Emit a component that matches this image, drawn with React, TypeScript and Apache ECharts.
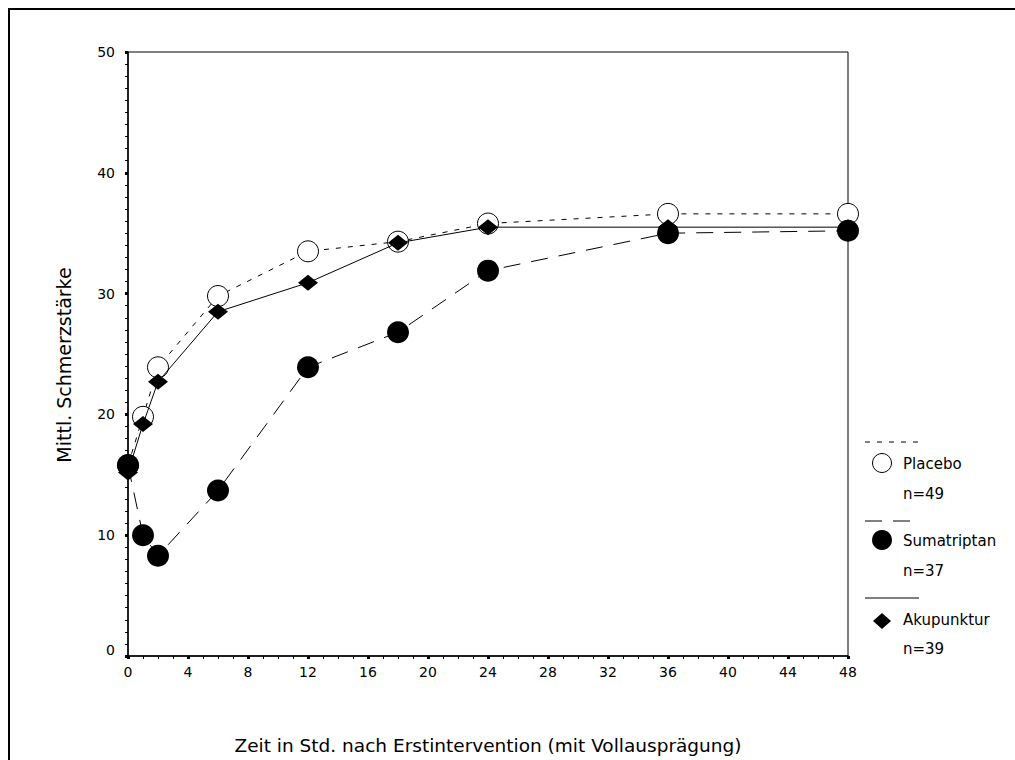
import React, { useEffect, useRef } from "react";
import * as echarts from "echarts";

const hours = [0, 1, 2, 6, 12, 18, 24, 36, 48];
const placebo = [15.8, 19.8, 23.9, 29.8, 33.5, 34.3, 35.8, 36.6, 36.6];
const sumatriptan = [15.8, 10.0, 8.3, 13.7, 23.9, 26.8, 31.9, 35.0, 35.2];
const akupunktur = [15.2, 19.2, 22.7, 28.5, 30.9, 34.2, 35.5, 35.5, 35.5];
const legendNames = ["Placebo", "Sumatriptan", "Akupunktur"];
const legendN = ["n=49", "n=37", "n=39"];

const FONT = "DejaVu Sans, Verdana, sans-serif";

export default function App() {
  const ref = useRef<HTMLDivElement>(null);
  useEffect(() => {
    const chart = echarts.init(ref.current!, undefined, { renderer: "svg" });
    const pair = (ys: number[]) => hours.map((h, i) => [h, ys[i]]);
    const lineCommon = { color: "#000", width: 1 };
    const legendX = 865;
    const textX = 903;
    const lf = `15px ${FONT}`;
    const graphic: any[] = [
      { type: "rect", shape: { x: 9, y: 9, width: 1100, height: 900 }, style: { fill: "none", stroke: "#000", lineWidth: 2 }, silent: true },
      // Placebo legend
      { type: "line", shape: { x1: legendX, y1: 442, x2: 920, y2: 442 }, style: { stroke: "#000", lineWidth: 1, lineDash: [5, 7] } },
      { type: "circle", shape: { cx: 882, cy: 463, r: 9.5 }, style: { fill: "#fff", stroke: "#000", lineWidth: 1 } },
      { type: "text", x: textX, y: 464, style: { text: legendNames[0], font: lf, fill: "#000", verticalAlign: "middle" } },
      { type: "text", x: textX, y: 494, style: { text: legendN[0], font: lf, fill: "#000", verticalAlign: "middle" } },
      // Sumatriptan legend
      { type: "line", shape: { x1: legendX, y1: 521, x2: 920, y2: 521 }, style: { stroke: "#000", lineWidth: 1, lineDash: [17, 11] } },
      { type: "circle", shape: { cx: 882, cy: 540, r: 10 }, style: { fill: "#000" } },
      { type: "text", x: textX, y: 541, style: { text: legendNames[1], font: lf, fill: "#000", verticalAlign: "middle" } },
      { type: "text", x: textX, y: 571, style: { text: legendN[1], font: lf, fill: "#000", verticalAlign: "middle" } },
      // Akupunktur legend
      { type: "line", shape: { x1: legendX, y1: 598, x2: 919, y2: 598 }, style: { stroke: "#000", lineWidth: 1 } },
      { type: "polygon", shape: { points: [[882, 613], [891, 621], [882, 629], [873, 621]] }, style: { fill: "#000" } },
      { type: "text", x: textX, y: 620, style: { text: legendNames[2], font: lf, fill: "#000", verticalAlign: "middle" } },
      { type: "text", x: textX, y: 649, style: { text: legendN[2], font: lf, fill: "#000", verticalAlign: "middle" } },
    ];
    chart.setOption({
      animation: false,
      backgroundColor: "#fff",
      textStyle: { fontFamily: FONT },
      grid: { left: 128, top: 52, right: 167, bottom: 98, show: true, borderColor: "#000", borderWidth: 1, backgroundColor: "transparent" },
      xAxis: {
        type: "value", min: 0, max: 48, interval: 4,
        name: "Zeit in Std. nach Erstintervention (mit Vollausprägung)",
        nameLocation: "middle", nameGap: 80,
        nameTextStyle: { fontSize: 18.5, color: "#000", fontFamily: FONT },
        axisLine: { lineStyle: { color: "#000", width: 1.5 } },
        axisTick: { show: true, length: 3, lineStyle: { color: "#000", width: 3 } },
        minorTick: { show: true, splitNumber: 4, length: 3, lineStyle: { color: "#000", width: 1 } },
        axisLabel: { color: "#000", fontSize: 14, margin: 9, fontFamily: FONT },
        splitLine: { show: false },
      },
      yAxis: {
        type: "value", min: 0, max: 50, interval: 10,
        name: "Mittl. Schmerzstärke",
        nameLocation: "middle", nameGap: 55,
        nameTextStyle: { fontSize: 19, color: "#000", fontFamily: FONT, padding: [0, 22, 0, 0] },
        axisLine: { lineStyle: { color: "#000", width: 1.5 } },
        axisTick: { show: true, length: 3, lineStyle: { color: "#000", width: 3 } },
        minorTick: { show: true, splitNumber: 10, length: 3, lineStyle: { color: "#000", width: 1 } },
        axisLabel: {
          color: "#000", fontSize: 14, margin: 13, fontFamily: FONT,
          formatter: (v: number) => (v === 0 ? "{z|0}" : String(v)),
          rich: { z: { fontSize: 14, color: "#000", padding: [0, 0, 13, 0], fontFamily: FONT } },
        },
        splitLine: { show: false },
      },
      series: [
        {
          name: legendNames[0], type: "line", data: pair(placebo),
          symbol: "circle", symbolSize: 21,
          itemStyle: { color: "#fff", borderColor: "#000", borderWidth: 1 },
          lineStyle: { ...lineCommon, type: [5, 7] },
          z: 2,
        },
        {
          name: legendNames[2], type: "line", data: pair(akupunktur),
          symbol: "diamond", symbolSize: [20, 16],
          itemStyle: { color: "#000" },
          lineStyle: { ...lineCommon, type: "solid" },
          z: 3,
        },
        {
          name: legendNames[1], type: "line", data: pair(sumatriptan),
          symbol: "circle", symbolSize: 22,
          itemStyle: { color: "#000" },
          lineStyle: { ...lineCommon, type: [17, 11] },
          z: 4,
        },
      ],
      graphic,
    });
    return () => chart.dispose();
  }, []);
  return <div ref={ref} style={{ position: "fixed", left: 0, top: 0, width: 1015, height: 760, background: "#fff" }} />;
}
